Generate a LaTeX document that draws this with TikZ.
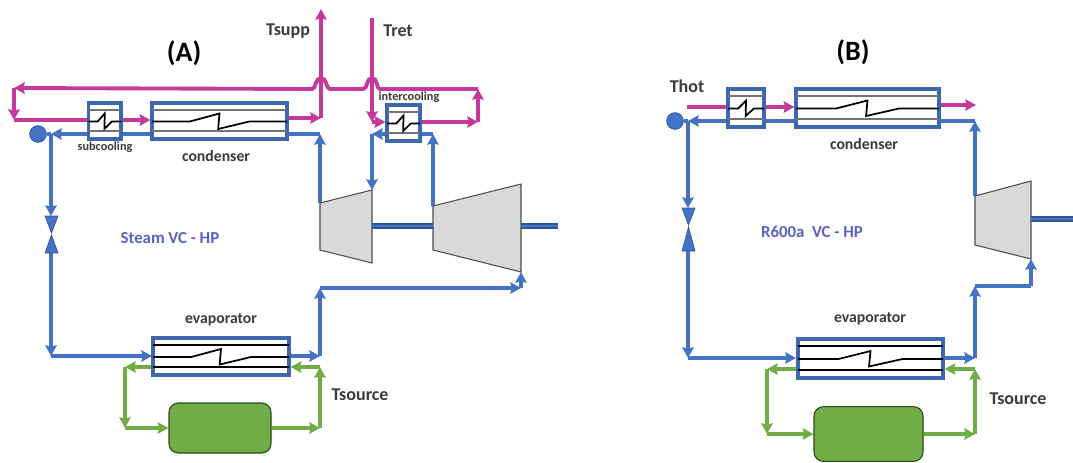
\documentclass[tikz,border=0pt]{standalone}
\usepackage{fontspec}
\setmainfont{Carlito}
\usetikzlibrary{arrows.meta}
\definecolor{pinkflow}{HTML}{C4399B}
\definecolor{blueflow}{HTML}{4472C4}
\definecolor{greenflow}{HTML}{70AD47}
\definecolor{shaftblue}{HTML}{2F5597}
\definecolor{labelgray}{HTML}{3A3A3A}
\definecolor{cyclevio}{HTML}{5A62C8}
\tikzset{
  pinkline/.style={draw=pinkflow,line width=2.9pt},
  blueline/.style={draw=blueflow,line width=2.5pt},
  greenline/.style={draw=greenflow,line width=2.5pt},
  hxbox/.style={draw=blueflow!90!black,line width=2.4pt,inner sep=0pt,fill=white},
  ballnode/.style={circle,draw=shaftblue,fill=blueflow,line width=0.6pt,inner sep=0pt,minimum size=12.5pt},
  sourcebox/.style={rectangle,rounded corners=7pt,draw=black!60!greenflow,fill=greenflow,line width=0.8pt,inner sep=0pt},
  machine/.style={fill=black!15,draw=black!70,line width=0.8pt},
  shaft/.style={draw=shaftblue,double=blueflow,double distance=1.1pt,line width=1.7pt},
  titletext/.style={font=\bfseries\fontsize{21}{23}\selectfont,inner sep=0pt},
  bigtext/.style={font=\bfseries\fontsize{13.5}{15}\selectfont,text=labelgray,inner sep=0pt},
  unittext/.style={font=\bfseries\fontsize{11.8}{14}\selectfont,text=labelgray,inner sep=0pt},
  smalltext/.style={font=\bfseries\fontsize{9.2}{11}\selectfont,text=labelgray,inner sep=0pt},
  cycletext/.style={font=\bfseries\fontsize{12.6}{15}\selectfont,text=cyclevio,inner sep=0pt}
}
\begin{document}
\begin{tikzpicture}[x=0.75pt,y=-0.75pt,>={Stealth[length=8pt,width=8.5pt,inset=1pt]}]
% heat exchanger, #1 = colour of inner lines, #2 = name, #3..#6 = corners
\newcommand{\hxunit}[6][black!55]{
  \node[hxbox,minimum width={(#5-#3)*0.75pt},minimum height={(#6-#4)*0.75pt}] (#2) at ({(#3+#5)/2},{(#4+#6)/2}) {};
  \draw[#1,line width=1pt] (#3,#4+7) -- (#5,#4+7) (#3,#6-8) -- (#5,#6-8);
  \draw[black,line width=1.3pt] (#3,{(#4+#6)/2+0.5}) -- ({#3+0.28*(#5-#3)},{(#4+#6)/2+0.5})
    -- ({#3+0.5*(#5-#3)},{(#4+#6)/2-7.5}) -- ({#3+0.49*(#5-#3)},{(#4+#6)/2+8})
    -- ({#3+0.72*(#5-#3)},{(#4+#6)/2+0.5}) -- (#5,{(#4+#6)/2+0.5});
}
% expansion valve, #1 = x, #2 = top, #3 = middle, #4 = bottom
\newcommand{\valve}[4]{
  \filldraw[fill=blueflow,draw=shaftblue,line width=0.5pt] (#1-6.5,#2) -- (#1+6.5,#2) -- (#1,#3-1) -- cycle;
  \filldraw[fill=blueflow,draw=shaftblue,line width=0.5pt] (#1-6.5,#4) -- (#1+6.5,#4) -- (#1,#3+1) -- cycle;
}
\useasboundingbox (0,0) rectangle (1073,462);
\fill[white] (0,0) rectangle (1073,462);
% ---------- (A) steam cycle ----------
\begin{scope}
\node[titletext] (titleA) at (184,53) {(A)};
\node[bigtext] (tsupp) at (288,31) {Tsupp};
\node[bigtext] (tret) at (398,31) {Tret};
\node[smalltext] (labsub) at (105,147) {subcooling};
\node[unittext] (labcond) at (216,156) {condenser};
\node[smalltext] (labinter) at (409,97) {intercooling};
\node[unittext] (labevap) at (221,320) {evaporator};
\node[cycletext] (labcycle) at (170,238) {Steam VC - HP};
\node[bigtext] (tsrc) at (360,395) {Tsource};
% pink water loop
\coordinate (pa1) at (478,122);
\coordinate (pa2) at (478,89);
\coordinate (pa3) at (14,88);
\coordinate (pa4) at (14,120);
\coordinate (pa5) at (321,118);
\coordinate (pa6) at (321,9);
\coordinate (pa7) at (372,18);
\coordinate (pa8) at (372,122);
\draw[pinkline,->] (pa1) -- (pa2);
\draw[pinkline,->] (pa2) -- (380,89) .. controls (376,89) and (378,78) .. (372,78) .. controls (366,78) and (368,89) .. (363,89)
  -- (330,89) .. controls (326,89) and (327,78) .. (321,78) .. controls (315,78) and (316,89) .. (312,89) -- (pa3);
\draw[pinkline,->] (pa3) -- (pa4);
\draw[pinkline,->] (pa5) -- (pa6);
\draw[pinkline,->] (pa7) -- (pa8);
% blue loop
\coordinate (ba1) at (320,203);
\coordinate (ba2) at (320,134);
\coordinate (ba3) at (51,134);
\coordinate (ba4) at (51,216);
\coordinate (ba5) at (51,253);
\coordinate (ba6) at (51,356);
\coordinate (ba7) at (320,356);
\coordinate (ba8) at (320,288);
\coordinate (ba9) at (521,288);
\coordinate (ba10) at (521,272);
\coordinate (ba11) at (433,206);
\coordinate (ba12) at (433,134);
\coordinate (ba13) at (372,134);
\coordinate (ba14) at (372,190);
\draw[blueline,->] (ba1) -- (ba2);
\draw[blueline,->] (ba2) -- (ba3);
\draw[blueline,->] (ba3) -- (ba4);
\draw[blueline,->] (ba5) -- (ba6);
\draw[blueline,->] (ba6) -- (152,356);
\draw[blueline,->] (289,356) -- (ba7);
\draw[blueline,->] (ba7) -- (ba8);
\draw[blueline,->] (ba8) -- (ba9);
\draw[blueline,->] (ba9) -- (ba10);
\draw[blueline,->] (ba11) -- (ba12);
\draw[blueline,->] (ba12) -- (ba13);
\draw[blueline,->] (ba13) -- (ba14);
% units
\hxunit{subA}{88.5}{103}{121}{139}
\hxunit{condA}{152}{103}{287}{139}
\hxunit{interA}{387}{105}{420}{141}
\hxunit[black]{evapA}{153}{338}{289}{375}
\node[ballnode] (ballA) at (38,134) {};
\valve{51.5}{216}{234}{253}
\draw[pinkline] (pa4) -- (subA.west |- pa4);
\draw[pinkline,->] (subA.east |- pa4) -- (condA.west |- pa4);
\draw[pinkline,->] (condA.east |- pa5) -- (pa5);
\draw[pinkline,->] (pa8) -- (interA.west |- pa8);
\draw[pinkline,->] (interA.east |- pa8) -- (pa1);
\draw[blueline] (ba3) -- (ballA);
% compressors
\filldraw[machine] (ba1) -- (372,190) -- (372,263) -- (320,250) -- cycle;
\filldraw[machine] (ba11) -- (521,184) -- (521,272) -- (433,250) -- cycle;
\draw[shaft] (372,226) -- (433,226);
\draw[shaft] (521,226) -- (558,226);
% green loop
\node[sourcebox,minimum width=76.5pt,minimum height=37.5pt] (srcA) at (220,428) {};
\coordinate (ga1) at (320,428);
\coordinate (ga2) at (320,367);
\coordinate (ga3) at (125,367);
\coordinate (ga4) at (125,428);
\draw[greenline,->] (srcA.east |- ga1) -- (ga1);
\draw[greenline,->] (ga1) -- (ga2);
\draw[greenline,->] (ga2) -- (evapA.east |- ga2);
\draw[greenline,->] (evapA.west |- ga3) -- (ga3);
\draw[greenline,->] (ga3) -- (ga4);
\draw[greenline,->] (ga4) -- (srcA.west |- ga4);
\end{scope}
% ---------- (B) R600a cycle ----------
\begin{scope}
\node[titletext] (titleB) at (853,52) {(B)};
\node[bigtext] (thot) at (687,86) {Thot};
\node[unittext] (labcondB) at (864,144) {condenser};
\node[unittext] (labevapB) at (870,319) {evaporator};
\node[cycletext] (labcycleB) at (812,232) {R600a\ \ VC - HP};
\node[bigtext] (tsrcB) at (1018,399) {Tsource};
% blue loop
\coordinate (bb1) at (975,196);
\coordinate (bb2) at (975,121);
\coordinate (bb3) at (688,121);
\coordinate (bb4) at (688,208);
\coordinate (bb5) at (688,251);
\coordinate (bb6) at (688,358);
\coordinate (bb7) at (975,358);
\coordinate (bb8) at (975,286);
\coordinate (bb9) at (1031,286);
\coordinate (bb10) at (1031,259);
\draw[blueline,->] (bb1) -- (bb2);
\draw[blueline,->] (bb2) -- (bb3);
\draw[blueline,->] (bb3) -- (bb4);
\draw[blueline,->] (bb5) -- (bb6);
\draw[blueline,->] (bb6) -- (796,358);
\draw[blueline,->] (943,358) -- (bb7);
\draw[blueline,->] (bb7) -- (bb8);
\draw[blueline] (bb8) -- (bb9);
\draw[blueline,->] (bb9) -- (bb10);
% units
\hxunit{subB}{728}{89}{764}{127}
\hxunit{condB}{796}{89}{939}{127}
\hxunit[black]{evapB}{798}{339}{943}{378}
\node[ballnode] (ballB) at (675,121) {};
\valve{688.5}{208}{226}{251}
\coordinate (pb1) at (687,107);
\coordinate (pb2) at (976,105);
\draw[pinkline] (pb1) -- (subB.west |- pb1);
\draw[pinkline,->] (subB.east |- pb1) -- (condB.west |- pb1);
\draw[pinkline,->] (condB.east |- pb2) -- (pb2);
\draw[blueline] (bb3) -- (ballB);
% compressor
\filldraw[machine] (bb1) -- (1031,181) -- (1031,259) -- (975,245) -- cycle;
\draw[shaft] (1031,219) -- (1073,219);
% green loop
\node[sourcebox,minimum width=81.75pt,minimum height=41pt] (srcB) at (868.5,434) {};
\coordinate (gb1) at (975,434);
\coordinate (gb2) at (975,369);
\coordinate (gb3) at (767,369);
\coordinate (gb4) at (767,434);
\draw[greenline,->] (srcB.east |- gb1) -- (gb1);
\draw[greenline,->] (gb1) -- (gb2);
\draw[greenline,->] (gb2) -- (evapB.east |- gb2);
\draw[greenline,->] (evapB.west |- gb3) -- (gb3);
\draw[greenline,->] (gb3) -- (gb4);
\draw[greenline,->] (gb4) -- (srcB.west |- gb4);
\end{scope}
\end{tikzpicture}
\end{document}
